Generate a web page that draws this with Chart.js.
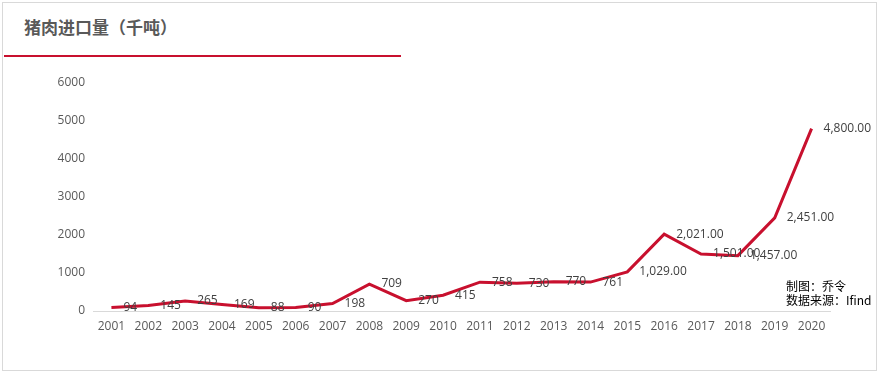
<!DOCTYPE html>
<html>
<head>
<meta charset="utf-8">
<script src="https://cdn.jsdelivr.net/npm/chart.js@4/dist/chart.umd.min.js"></script>
<style>
  html, body { margin: 0; padding: 0; background: #fff; }
  #wrap { position: relative; width: 882px; height: 376px; overflow: hidden; }
  #frame { position: absolute; left: 2px; top: 2px; width: 875px; height: 369px; border: 1px solid #d9d9d9; box-sizing: border-box; }
  #title { position: absolute; left: 24px; top: 14px; font: bold 17px "Noto Sans CJK SC", sans-serif; color: #595959; }
  #redline { position: absolute; left: 4px; top: 55px; width: 397px; height: 2px; background: #c8102e; }
  #note { position: absolute; left: 786px; top: 279px; font: 12px "Noto Sans CJK SC", sans-serif; color: #000; line-height: 14px; }
  #chartBox { position: absolute; left: 0; top: 0; width: 882px; height: 376px; }
</style>
</head>
<body>
<div id="wrap">
  <div id="frame"></div>
  <div id="title">猪肉进口量（千吨）</div>
  <div id="redline"></div>
  <div id="chartBox"><canvas id="myChart"></canvas></div>
  <div id="note">制图：乔令<br>数据来源：Ifind</div>
</div>
<script>
const years = ['2001', '2002', '2003', '2004', '2005', '2006', '2007', '2008', '2009', '2010',
  '2011', '2012', '2013', '2014', '2015', '2016', '2017', '2018', '2019', '2020'];
const porkImports = [94, 145, 265, 169, 88, 90, 198, 709, 270, 415,
  758, 730, 770, 761, 1029, 2021, 1501, 1457, 2451, 4800];
const yTicks = [0, 1000, 2000, 3000, 4000, 5000, 6000];

const fontFamily = '"Segoe UI", "Open Sans", "Noto Sans CJK SC", sans-serif';

function fmtLabel(v) {
  if (v >= 1000) {
    return v.toLocaleString('en-US', { minimumFractionDigits: 2, maximumFractionDigits: 2 });
  }
  return String(v);
}

// labels to the right of each point, like excel
const pointLabels = {
  id: 'pointLabels',
  afterDatasetsDraw(chart) {
    const { ctx } = chart;
    const meta = chart.getDatasetMeta(0);
    ctx.save();
    ctx.font = '12px ' + fontFamily;
    ctx.fillStyle = '#404040';
    ctx.textAlign = 'left';
    ctx.textBaseline = 'middle';
    meta.data.forEach((pt, i) => {
      ctx.fillText(fmtLabel(porkImports[i]), pt.x + 12, pt.y);
    });
    ctx.restore();
  },
};

const ctx = document.getElementById('myChart');
const myChart = new Chart(ctx, {
  type: 'line',
  data: {
    labels: years,
    datasets: [{
      label: '猪肉进口量',
      data: porkImports,
      borderColor: '#c8102e',
      backgroundColor: '#c8102e',
      borderWidth: 3,
      pointRadius: 0,
      tension: 0,
    }],
  },
  options: {
    responsive: true,
    maintainAspectRatio: false,
    animation: false,
    layout: { padding: { top: 83, right: 52, bottom: 0, left: 0 } },
    plugins: {
      legend: { display: false },
      tooltip: { enabled: false },
    },
    scales: {
      x: {
        offset: true,
        grid: { display: false, drawTicks: false },
        border: { display: true, color: '#d9d9d9', width: 1 },
        ticks: {
          color: '#595959',
          font: { size: 12, family: fontFamily },
          padding: 8,
          maxRotation: 0,
          autoSkip: false,
        },
        afterFit(scale) { scale.height = 65; },
      },
      y: {
        min: 0,
        max: 6000,
        grid: { display: false, drawTicks: false },
        border: { display: false },
        afterBuildTicks(scale) { scale.ticks = yTicks.map((v) => ({ value: v })); },
        ticks: {
          color: '#595959',
          font: { size: 12, family: fontFamily },
          padding: 8,
          callback: (v) => String(v),
        },
        afterFit(scale) { scale.width = 93; },
      },
    },
  },
  plugins: [pointLabels],
});
</script>
</body>
</html>
